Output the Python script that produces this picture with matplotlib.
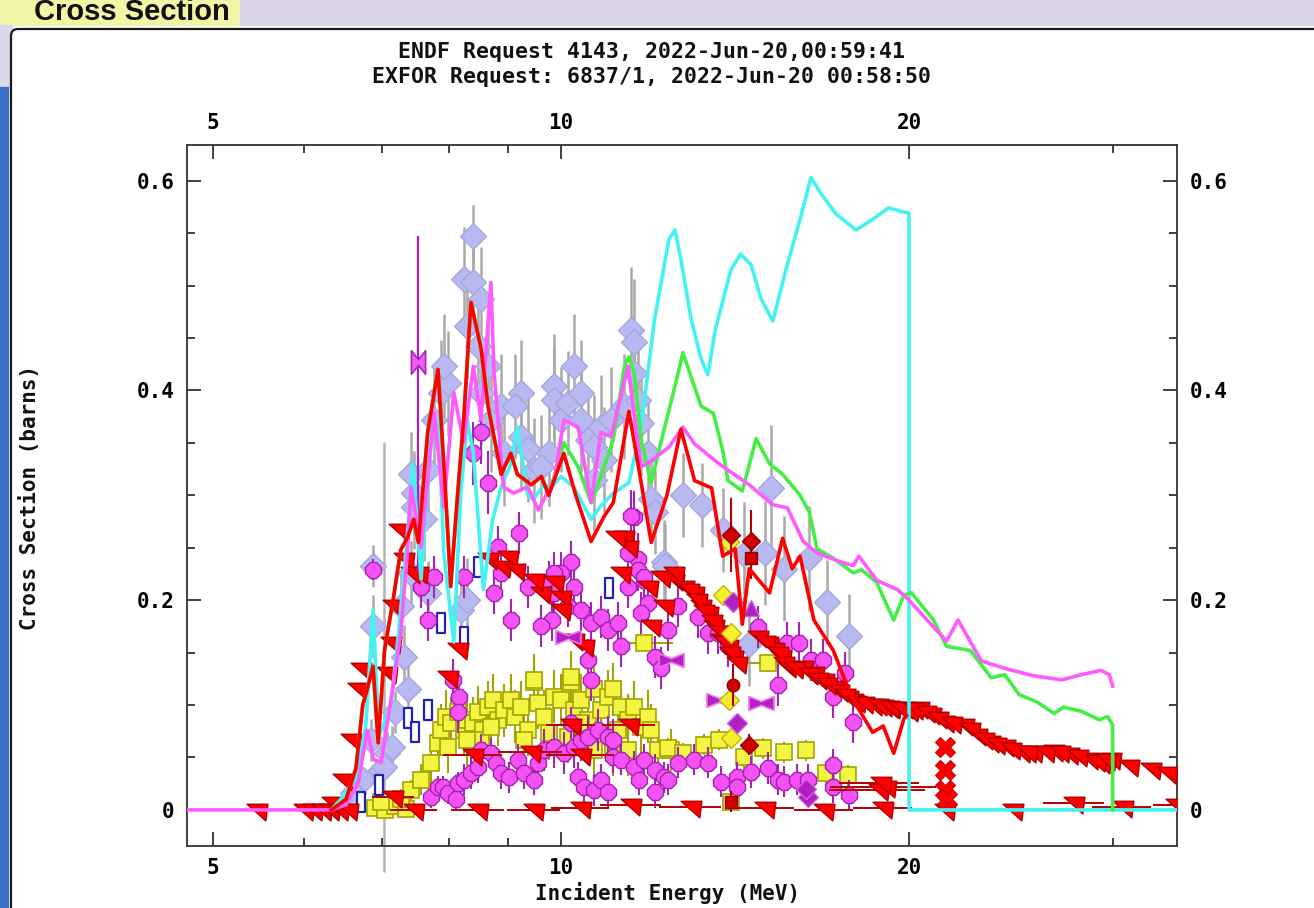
import matplotlib
matplotlib.use("Agg")
import matplotlib.pyplot as plt
import matplotlib.ticker as ticker
from matplotlib.path import Path
from matplotlib.patches import Rectangle, FancyBboxPatch

# ---- evaluated curves (incident energy MeV, cross section barns) ----
cyan_e = [6.33, 6.45, 6.65, 6.78, 6.88, 6.96, 7.13, 7.24, 7.35, 7.45, 7.57, 7.72, 7.84, 7.92,
          8.08, 8.19, 8.30, 8.40, 8.57, 8.73, 8.88, 9.05, 9.17, 9.36, 9.47, 9.66, 9.82, 10.0,
          10.26, 10.62, 10.83, 11.1, 11.45, 11.73, 12.05, 12.4, 12.55, 12.7, 12.96, 13.22, 13.4,
          13.6, 14.03, 14.3, 14.6, 14.9, 15.25, 15.65, 16.1, 16.45, 16.8, 17.3, 18.0, 18.6, 19.2,
          19.8, 20.0, 20.0, 35.0]
cyan_xs = [0.0, 0.01, 0.03, 0.08, 0.19, 0.07, 0.10, 0.17, 0.25, 0.33, 0.22, 0.36, 0.37, 0.245,
           0.16, 0.30, 0.372, 0.34, 0.21, 0.277, 0.308, 0.33, 0.365, 0.30, 0.296, 0.31, 0.308, 0.318,
           0.308, 0.277, 0.29, 0.302, 0.312, 0.365, 0.468, 0.544, 0.553, 0.525, 0.468, 0.43, 0.415,
           0.458, 0.515, 0.53, 0.52, 0.487, 0.466, 0.515, 0.563, 0.603, 0.587, 0.568, 0.553, 0.563, 0.574,
           0.57, 0.569, 0.0, 0.0]

red_e = [6.33, 6.52, 6.65, 6.74, 6.80, 6.88, 6.95, 7.04, 7.16, 7.27, 7.37, 7.46, 7.53, 7.67, 7.83,
         7.95, 8.03, 8.14, 8.24, 8.36, 8.53, 8.65, 8.88, 9.05, 9.17, 9.43, 9.62, 9.76, 10.06, 10.3,
         10.62, 10.9, 11.1, 11.45, 11.7, 11.97, 12.35, 12.7, 13.05, 13.5, 13.8, 14.15, 14.35, 14.55,
         15.15, 15.55, 15.85, 16.1, 16.55, 17.2, 17.85, 18.6, 19.0, 19.4, 19.8, 19.9]
red_xs = [0.0, 0.01, 0.04, 0.10, 0.115, 0.137, 0.064, 0.153, 0.20, 0.248, 0.26, 0.277, 0.255, 0.36, 0.42,
          0.30, 0.213, 0.30, 0.372, 0.484, 0.44, 0.385, 0.32, 0.34, 0.32, 0.31, 0.318, 0.30, 0.34, 0.30,
          0.256, 0.28, 0.293, 0.38, 0.32, 0.255, 0.30, 0.363, 0.314, 0.307, 0.242, 0.249, 0.177, 0.23,
          0.207, 0.259, 0.23, 0.242, 0.181, 0.152, 0.107, 0.074, 0.08, 0.054, 0.087, 0.09]

# below 10 MeV the green evaluation lies under the red one
green_hi_e = [10.06, 10.35, 10.62, 10.83, 11.1, 11.35, 11.45, 11.57, 11.73, 11.97, 12.2, 12.55, 12.75,
              12.96, 13.22, 13.55, 13.8, 13.95, 14.35, 14.75, 15.15, 15.55, 16.1, 16.4, 16.65, 17.2,
              17.9, 18.2, 18.75, 19.4, 19.8, 20.1, 21.0, 21.55, 22.6, 23.55, 24.2, 24.9, 25.8, 26.7,
              27.2, 28.2, 29.2, 29.7, 30.0, 30.0]
green_hi_xs = [0.35, 0.327, 0.293, 0.318, 0.353, 0.423, 0.432, 0.417, 0.353, 0.312, 0.35, 0.404, 0.436,
               0.413, 0.385, 0.378, 0.343, 0.314, 0.304, 0.354, 0.33, 0.32, 0.30, 0.284, 0.249, 0.24,
               0.226, 0.229, 0.217, 0.181, 0.205, 0.207, 0.181, 0.156, 0.152, 0.126, 0.129, 0.110, 0.103,
               0.092, 0.098, 0.094, 0.086, 0.089, 0.081, 0.0]
green_e = red_e[:28] + green_hi_e
green_xs = red_xs[:28] + green_hi_xs

mag_e = [4.7, 6.33, 6.52, 6.68, 6.80, 6.89, 6.99, 7.13, 7.27, 7.37, 7.42, 7.57, 7.77, 7.92, 8.08,
         8.24, 8.40, 8.53, 8.70, 8.75, 8.92, 9.10, 9.36, 9.56, 9.87, 10.06, 10.35, 10.62, 10.83,
         11.05, 11.43, 11.73, 11.97, 12.4, 12.75, 13.05, 13.7, 14.55, 15.25, 15.7, 16.2, 16.65,
         17.5, 17.9, 18.1, 18.75, 19.55, 20.0, 20.5, 21.55, 22.05, 23.1, 24.2, 25.6, 27.1, 28.2,
         29.3, 29.8, 30.0]
mag_xs = [0.0, 0.0, 0.005, 0.026, 0.076, 0.048, 0.045, 0.105, 0.169, 0.248, 0.308, 0.25, 0.379, 0.289,
          0.398, 0.35, 0.423, 0.372, 0.503, 0.42, 0.308, 0.302, 0.308, 0.286, 0.315, 0.372, 0.365,
          0.293, 0.36, 0.356, 0.423, 0.327, 0.333, 0.346, 0.365, 0.349, 0.33, 0.31, 0.291, 0.288,
          0.256, 0.245, 0.236, 0.233, 0.242, 0.219, 0.21, 0.20, 0.187, 0.161, 0.181, 0.142, 0.135,
          0.128, 0.124, 0.129, 0.133, 0.129, 0.118]

# ---- measured data (EXFOR) ----
dia_e = [6.88, 6.88, 7.19, 7.08, 6.99, 7.15, 6.75, 6.61, 6.85, 7.27, 7.42, 7.67, 7.32, 7.37, 8.19,
         8.30, 7.46, 7.46, 7.42, 7.62, 7.67, 7.77, 7.88, 7.99, 7.92, 8.40, 8.24, 8.40, 8.53, 8.30,
         8.48, 8.65, 8.53, 8.70, 8.88, 8.93, 9.24, 9.12, 9.24, 9.36, 9.48, 9.87, 9.87, 10.0, 10.14,
         10.26, 10.41, 10.41, 10.55, 10.68, 10.83, 11.05, 11.34, 11.50, 11.56, 11.56, 11.66, 11.73,
         11.89, 11.97, 9.76, 9.62, 10.68, 10.90, 12.28, 12.75, 13.25, 13.80, 12.30, 12.05, 15.0,
         15.6, 16.4, 17.0, 17.75, 14.4, 14.55, 15.2]
dia_xs = [0.233, 0.175, 0.093, 0.054, 0.038, 0.060, 0.029, 0.016, 0.067, 0.194, 0.226, 0.207, 0.146,
          0.115, 0.191, 0.200, 0.302, 0.289, 0.320, 0.277, 0.324, 0.372, 0.398, 0.407, 0.423, 0.547,
          0.506, 0.503, 0.487, 0.461, 0.442, 0.423, 0.398, 0.372, 0.385, 0.340, 0.398, 0.385, 0.356,
          0.344, 0.324, 0.404, 0.391, 0.372, 0.388, 0.423, 0.398, 0.372, 0.353, 0.346, 0.365, 0.372,
          0.385, 0.458, 0.446, 0.417, 0.391, 0.369, 0.340, 0.296, 0.340, 0.327, 0.315, 0.334, 0.236,
          0.300, 0.291, 0.267, 0.233, 0.284, 0.245, 0.230, 0.240, 0.198, 0.166, 0.244, 0.158, 0.307]
dia_err = [0.02, 0.03, 0.02, 0.02, 0.02, 0.02, 0.01, 0.01, 0.02, 0.03, 0.03, 0.03, 0.03, 0.03, 0.04,
           0.04, 0.04, 0.04, 0.04, 0.04, 0.04, 0.05, 0.05, 0.05, 0.05, 0.03, 0.05, 0.05, 0.05, 0.05,
           0.05, 0.05, 0.05, 0.05, 0.05, 0.05, 0.05, 0.05, 0.05, 0.05, 0.05, 0.05, 0.05, 0.05, 0.05,
           0.05, 0.05, 0.05, 0.05, 0.05, 0.05, 0.05, 0.05, 0.06, 0.06, 0.05, 0.05, 0.05, 0.05, 0.04,
           0.05, 0.05, 0.05, 0.05, 0.04, 0.04, 0.04, 0.04, 0.04, 0.04, 0.05, 0.05, 0.05, 0.04, 0.04,
           0.05, 0.04, 0.06]
long_e = [7.03]
long_xs = [0.041]
long_lo = [0.10]
long_hi = [0.31]

circ_e = [11.56, 10.2, 10.0, 9.76, 9.87, 10.26, 10.14, 10.41, 10.62, 10.83, 10.98, 11.2, 11.27,
          10.55, 10.62, 9.82, 9.62, 11.43, 11.66, 11.66, 11.8, 11.89, 11.73, 12.38, 12.62, 12.05,
          12.2, 13.14, 13.4, 13.67, 13.95, 14.8, 15.7, 16.05, 16.45, 16.85, 15.4, 17.6, 17.2, 17.9,
          8.53, 8.65, 8.40, 9.2, 8.83, 7.77, 8.24, 11.5, 8.88, 9.36, 9.87, 11.43, 11.8, 8.75, 9.05,
          7.67, 8.06, 8.16, 8.14, 7.57, 6.88,
          7.72, 7.83, 7.91, 7.99, 8.11, 8.14, 8.24, 8.36, 8.48, 8.53, 8.70, 8.78, 8.88, 9.02, 9.18,
          9.29, 9.48, 9.55, 9.67, 9.87, 10.06, 10.26, 10.41, 10.55, 10.35, 10.47, 10.68, 10.83,
          10.98, 10.77, 10.98, 11.1, 11.1, 11.27, 11.56, 11.8, 12.05, 12.28, 12.05, 11.68, 10.2,
          12.38, 13.04, 13.4, 13.76, 14.2, 14.6, 15.1, 15.4, 15.6, 16.0, 16.35, 17.2, 17.2, 17.75,
          12.62, 14.2]
circ_xs = [0.279, 0.236, 0.226, 0.217, 0.207, 0.213, 0.194, 0.191, 0.178, 0.184, 0.172, 0.178, 0.156,
           0.143, 0.124, 0.181, 0.175, 0.213, 0.239, 0.229, 0.219, 0.197, 0.188, 0.172, 0.194, 0.146,
           0.135, 0.184, 0.169, 0.169, 0.156, 0.174, 0.159, 0.159, 0.143, 0.143, 0.119, 0.131, 0.108,
           0.084, 0.360, 0.312, 0.340, 0.264, 0.251, 0.222, 0.222, 0.280, 0.226, 0.213, 0.226, 0.245,
           0.222, 0.207, 0.181, 0.181, 0.124, 0.108, 0.093, 0.213, 0.229,
           0.012, 0.022, 0.022, 0.016, 0.010, 0.026, 0.029, 0.035, 0.041, 0.057, 0.054, 0.045, 0.035,
           0.031, 0.048, 0.035, 0.029, 0.045, 0.057, 0.060, 0.054, 0.060, 0.067, 0.070, 0.031, 0.022,
           0.019, 0.029, 0.017, 0.076, 0.070, 0.067, 0.050, 0.048, 0.041, 0.048, 0.038, 0.031, 0.017,
           0.029, 0.083, 0.029, 0.048, 0.045, 0.027, 0.031, 0.036, 0.040, 0.029, 0.027, 0.029, 0.029,
           0.022, 0.043, 0.014, 0.045, 0.022]
circ_err = [0.025, 0.02, 0.02, 0.02, 0.02, 0.02, 0.02, 0.02, 0.02, 0.02, 0.02, 0.02, 0.02,
            0.02, 0.02, 0.02, 0.02, 0.02, 0.025, 0.02, 0.02, 0.02, 0.02, 0.02, 0.02, 0.02,
            0.02, 0.02, 0.02, 0.02, 0.02, 0.02, 0.02, 0.02, 0.02, 0.02, 0.02, 0.02, 0.02, 0.02,
            0.03, 0.03, 0.03, 0.02, 0.02, 0.02, 0.02, 0.025, 0.02, 0.02, 0.02, 0.02, 0.02, 0.02, 0.02,
            0.02, 0.02, 0.02, 0.02, 0.02, 0.01,
            0.01, 0.01, 0.01, 0.01, 0.01, 0.01, 0.015, 0.015, 0.015, 0.015, 0.015, 0.015, 0.015,
            0.015, 0.015, 0.015, 0.015, 0.015, 0.02, 0.02, 0.02, 0.02, 0.02, 0.02, 0.015, 0.015,
            0.015, 0.015, 0.015, 0.02, 0.02, 0.02, 0.015, 0.015, 0.015, 0.015, 0.015, 0.015, 0.015,
            0.015, 0.015, 0.015, 0.015, 0.015, 0.015, 0.015, 0.015, 0.015, 0.015, 0.015, 0.015, 0.015,
            0.015, 0.015, 0.015, 0.015, 0.015]

sq_e = [6.9, 7.04, 7.19, 7.34, 6.99, 7.27, 7.42, 7.57, 7.72, 7.83, 7.88, 7.96, 8.03, 8.14, 8.24,
        8.30, 8.40, 8.48, 8.57, 8.65, 8.73, 8.83, 8.93, 9.05, 9.12, 9.24, 9.36, 9.48, 9.55, 9.67,
        9.76, 9.87, 10.0, 10.2, 10.26, 10.41, 10.55, 10.68, 10.83, 10.98, 11.1, 11.27, 11.43, 11.56,
        11.73, 11.89, 11.97, 12.13, 12.45, 8.53, 8.70, 7.99, 8.30, 10.68, 11.1, 10.14, 9.29, 11.2,
        11.43, 10.41, 9.48, 10.2, 13.3, 14.95, 15.6, 16.3, 16.95, 17.7, 14.4, 13.7, 12.38, 12.75,
        14.03]
sq_xs = [0.002, 0.0, 0.004, 0.001, 0.008, 0.010, 0.019, 0.029, 0.045, 0.064, 0.076, 0.089, 0.083,
         0.093, 0.076, 0.086, 0.083, 0.093, 0.076, 0.098, 0.105, 0.086, 0.095, 0.105, 0.089, 0.098,
         0.076, 0.122, 0.102, 0.089, 0.073, 0.108, 0.105, 0.122, 0.095, 0.105, 0.086, 0.115, 0.095,
         0.108, 0.115, 0.098, 0.086, 0.098, 0.079, 0.089, 0.076, 0.057, 0.057, 0.067, 0.079, 0.060,
         0.067, 0.057, 0.057, 0.070, 0.067, 0.076, 0.057, 0.083, 0.124, 0.127, 0.062, 0.059, 0.055,
         0.057, 0.035, 0.033, 0.050, 0.067, 0.059, 0.054, 0.008]
sq_err = [0.006, 0.006, 0.006, 0.006, 0.006, 0.01, 0.01, 0.015, 0.02, 0.02, 0.025, 0.025, 0.025,
          0.025, 0.025, 0.025, 0.025, 0.025, 0.025, 0.025, 0.025, 0.025, 0.025, 0.025, 0.025, 0.025,
          0.025, 0.025, 0.025, 0.025, 0.025, 0.025, 0.025, 0.025, 0.025, 0.025, 0.025, 0.025, 0.025,
          0.025, 0.025, 0.025, 0.025, 0.025, 0.025, 0.025, 0.025, 0.02, 0.02, 0.025, 0.025, 0.025,
          0.025, 0.025, 0.025, 0.025, 0.025, 0.025, 0.025, 0.025, 0.025, 0.025, 0.01, 0.01, 0.01,
          0.01, 0.01, 0.01, 0.01, 0.01, 0.01, 0.01, 0.01]
sqh_e = [11.8, 15.1]
sqh_xs = [0.159, 0.140]
sqh_xerr = [0.7, 0.9]

tri_e = [11.34, 11.43, 11.27, 11.89, 12.28, 11.97, 12.53, 12.77, 13.04, 13.22, 13.4, 13.56, 13.76,
         13.95, 14.1, 15.1, 15.3, 15.5, 15.7, 16.2, 16.55, 16.9, 17.2, 17.7, 17.9, 18.6, 19.0, 19.3,
         19.8, 20.0, 20.4, 20.9, 21.5, 22.3, 22.9, 23.5, 24.2, 25.0, 25.6, 26.7, 27.5, 28.6, 29.3,
         29.9, 31.0, 32.4, 33.4,
         12.9, 13.1, 13.3, 13.5, 13.7, 13.85, 14.0, 14.2, 14.8, 15.0, 15.4, 15.6, 15.9, 16.4, 16.7,
         17.0, 17.4, 17.6, 18.0, 18.3, 18.8, 19.2, 19.6, 20.2, 20.7, 21.2, 21.8, 22.6, 23.2, 23.8,
         24.5, 25.3, 26.2, 27.0, 28.0, 29.0, 29.6,
         9.62, 10.0, 10.26, 10.47, 7.24, 7.32, 7.53, 8.65, 9.0, 8.88, 9.12, 9.48, 9.87, 11.15, 12.2,
         12.53, 6.72, 6.68, 6.58, 6.48, 6.34, 7.16, 7.13, 7.08, 7.42, 8.14, 7.99, 10.0,
         5.46, 6.0, 6.11, 6.22, 6.32, 6.43, 6.54]
tri_xs = [0.260, 0.251, 0.226, 0.213, 0.194, 0.175, 0.219, 0.213, 0.207, 0.194, 0.188, 0.175, 0.162,
          0.156, 0.146, 0.159, 0.153, 0.146, 0.136, 0.136, 0.131, 0.124, 0.117, 0.108, 0.105, 0.100,
          0.099, 0.097, 0.097, 0.094, 0.097, 0.091, 0.084, 0.081, 0.071, 0.065, 0.061, 0.055, 0.055,
          0.056, 0.053, 0.049, 0.045, 0.049, 0.042, 0.039, 0.035,
          0.21, 0.20, 0.19, 0.18, 0.17, 0.16, 0.15, 0.14, 0.165, 0.16, 0.15, 0.14, 0.135, 0.13, 0.125,
          0.12, 0.113, 0.11, 0.103, 0.102, 0.10, 0.098, 0.097, 0.096, 0.093, 0.088, 0.083, 0.077,
          0.068, 0.063, 0.058, 0.055, 0.055, 0.055, 0.051, 0.047, 0.048,
          0.207, 0.203, 0.162, 0.156, 0.267, 0.239, 0.226, 0.239, 0.241, 0.232, 0.229, 0.219, 0.217,
          0.260, 0.222, 0.226, 0.134, 0.115, 0.067, 0.029, 0.007, 0.194, 0.159, 0.131, 0.226, 0.153,
          0.127, 0.191,
          0.0, 0.0, 0.0, 0.0, 0.0, 0.0, 0.0]

trl_e = [7.46, 8.48, 9.48, 10.41, 11.5, 12.96, 15.0, 16.9, 19.0, 21.5, 24.6, 27.8, 30.6, 34.0,
         7.16, 8.40, 9.43, 10.2, 10.41, 11.45, 19.1, 18.85, 18.9]
trl_xs = [0.0, 0.0, 0.0, 0.002, 0.005, 0.003, 0.002, 0.0, 0.002, 0.0, 0.0, 0.007, 0.003, 0.005,
          0.012, 0.052, 0.055, 0.081, 0.052, 0.081, 0.022, 0.019, 0.026]
trl_xerr = [0.35, 0.45, 0.5, 0.6, 0.7, 0.8, 0.9, 1.0, 1.1, 1.2, 1.5, 1.7, 1.8, 1.5,
            0.3, 0.5, 0.6, 0.5, 0.7, 0.6, 2.0, 1.8, 1.5]

rect_e = [8.48, 7.88, 8.24, 7.67, 7.37, 7.48, 6.96, 6.72, 11.0]
rect_xs = [0.232, 0.178, 0.165, 0.095, 0.088, 0.074, 0.024, 0.008, 0.212]

bow_e = [10.14, 12.45, 13.7, 14.9]
bow_xs = [0.165, 0.143, 0.105, 0.102]
hour_e = [7.52]
hour_xs = [0.427]
hour_lo = [0.20]
hour_hi = [0.12]

ydia_e = [13.97, 13.8, 14.03, 13.97, 14.03]
ydia_xs = [0.255, 0.205, 0.169, 0.105, 0.069]
pdia_e = [14.1, 14.2, 16.35, 16.3]
pdia_xs = [0.198, 0.083, 0.012, 0.020]
ptri_e = [14.6]
ptri_xs = [0.193]
dred_e = [14.03, 14.6, 14.6, 14.08, 14.55, 14.03]
dred_xs = [0.262, 0.256, 0.240, 0.119, 0.062, 0.008]
dred_err = [0.035, 0.03, 0.02, 0.02, 0.01, 0.01]
dred_mk = ['D', 'D', 's', 'o', 'D', 's']
xmark_e = [21.5, 21.5, 21.5, 21.55]
xmark_xs = [0.060, 0.038, 0.019, 0.010]

x_major = [5, 10, 20]
x_minor = [6, 7, 8, 9, 30]
title_lines = ["ENDF Request 4143, 2022-Jun-20,00:59:41",
               "EXFOR Request: 6837/1, 2022-Jun-20 00:58:50"]

mono = "DejaVu Sans Mono"
W, H = 1314, 908

tri_marker = Path([(-1, 0.6), (1, 0.6), (0.8, -1), (-1, 0.6)],
                  [Path.MOVETO, Path.LINETO, Path.LINETO, Path.CLOSEPOLY])
rect_marker = Path([(-0.4, -1), (0.4, -1), (0.4, 1), (-0.4, 1), (-0.4, -1)],
                   [Path.MOVETO, Path.LINETO, Path.LINETO, Path.LINETO, Path.CLOSEPOLY])
bow_marker = Path([(-1, 0.55), (0, 0.15), (1, 0.55), (1, -0.55), (0, -0.15), (-1, -0.55), (-1, 0.55)],
                  [Path.MOVETO] + [Path.LINETO] * 5 + [Path.CLOSEPOLY])
hour_marker = Path([(-0.6, 1), (0, 0.25), (0.6, 1), (0.6, -1), (0, -0.25), (-0.6, -1), (-0.6, 1)],
                   [Path.MOVETO] + [Path.LINETO] * 5 + [Path.CLOSEPOLY])

fig = plt.figure(figsize=(W / 100, H / 100), dpi=100)

# page chrome around the plot
bg = fig.add_axes([0, 0, 1, 1], zorder=0)
bg.set_xlim(0, W)
bg.set_ylim(H, 0)
bg.axis("off")
bg.add_patch(Rectangle((0, 0), 240, 25, color="#f4f4a6"))
bg.add_patch(Rectangle((240, 0), W - 240, 25, color="#d9d3e5"))
bg.add_patch(Rectangle((0, 25), 12, 62, color="#dcd8e8"))
bg.add_patch(Rectangle((0, 87), 8, H - 87, color="#3b6fc4"))
bg.add_patch(FancyBboxPatch((11, 29), W + 20, H + 20,
                            boxstyle="round,pad=0,rounding_size=7",
                            fc="white", ec="#1a1a1a", lw=1.6))
bg.text(34, 20, "Cross Section", fontsize=21, fontweight="bold",
        family="Liberation Sans", color="#111111", va="baseline", clip_on=True)

ax = fig.add_axes([187 / W, 1 - 846 / H, 990 / W, 701 / H], zorder=1)
ax.set_xscale("log")
ax.set_xlim(4.75, 34.1)
ax.set_ylim(-0.0344, 0.634)

# data points
ax.errorbar(dia_e, dia_xs, yerr=dia_err, fmt="none", ecolor="#a9a9a9", elinewidth=1.8, zorder=2)
eb = ax.errorbar(long_e, long_xs, yerr=[long_lo, long_hi], fmt="none", ecolor="#b4b4b4",
                 elinewidth=1.8, zorder=2)
for c in eb.lines[2]:
    c.set_clip_on(False)
ax.plot(dia_e + long_e, dia_xs + long_xs, ls="none", marker="D", ms=13,
        mfc="#b9b9f2", mec="#a6a6dc", mew=1, zorder=2.1)

ax.errorbar(sq_e, sq_xs, yerr=sq_err, fmt="none", ecolor="#a4a400", elinewidth=1.5, zorder=2.4)
ax.errorbar(sqh_e, sqh_xs, xerr=sqh_xerr, fmt="none", ecolor="#a4a400", elinewidth=1.5, zorder=2.4)
ax.plot(sq_e + sqh_e, sq_xs + sqh_xs, ls="none", marker="s", ms=11,
        mfc="#f4f442", mec="#a4a400", mew=1.2, zorder=2.5)

ax.plot(rect_e, rect_xs, ls="none", marker=rect_marker, ms=15,
        mfc="white", mec="#2222b4", mew=1.6, zorder=2.6)

ax.errorbar(circ_e, circ_xs, yerr=circ_err, fmt="none", ecolor="#a424b4", elinewidth=1.5, zorder=2.9)
ax.plot(circ_e, circ_xs, ls="none", marker="8", ms=12,
        mfc="#f452f4", mec="#a420b0", mew=1, zorder=3)

ax.errorbar(trl_e, trl_xs, xerr=trl_xerr, fmt="none", ecolor="#b40000", elinewidth=1.4, zorder=3.3)
ax.plot(tri_e + trl_e, tri_xs + trl_xs, ls="none", marker=tri_marker, ms=15,
        mfc="#ff0000", mec="#b00000", mew=1, zorder=3.5)

ax.errorbar(hour_e, hour_xs, yerr=[hour_lo, hour_hi], fmt="none", ecolor="#b020c0",
            elinewidth=1.6, zorder=3.6)
ax.plot(hour_e, hour_xs, ls="none", marker=hour_marker, ms=17,
        mfc="#f060f0", mec="#b020c0", mew=1.2, zorder=3.7)
ax.plot(bow_e, bow_xs, ls="none", marker=bow_marker, ms=18,
        mfc="#b422c4", mec="#f070f0", mew=1.2, zorder=3.7)
ax.plot(ydia_e, ydia_xs, ls="none", marker="D", ms=10,
        mfc="#f4f030", mec="#c8b400", mew=1, zorder=3.7)
ax.plot(pdia_e, pdia_xs, ls="none", marker="D", ms=10,
        mfc="#b020c0", mec="#d060e0", mew=1, zorder=3.7)
ax.plot(ptri_e, ptri_xs, ls="none", marker="^", ms=12,
        mfc="#b020c0", mec="#d060e0", mew=1, zorder=3.7)
ax.errorbar(dred_e, dred_xs, yerr=dred_err, fmt="none", ecolor="#b00000", elinewidth=1.5, zorder=3.7)
for e, s, m in zip(dred_e, dred_xs, dred_mk):
    ax.plot([e], [s], ls="none", marker=m, ms=9, mfc="#d00000", mec="#900000", zorder=3.8)
ax.plot(xmark_e, xmark_xs, ls="none", marker="X", ms=15,
        mfc="#ff0000", mec="#d00000", mew=0.8, zorder=3.8)

# evaluations on top
ax.plot(cyan_e, cyan_xs, color="#44f2f2", lw=2.6, zorder=4)
ax.plot(green_e, green_xs, color="#44ee44", lw=2.6, zorder=4.1)
ax.plot(mag_e, mag_xs, color="#ff5aff", lw=2.6, zorder=4.2)
ax.plot(red_e, red_xs, color="#ff0000", lw=2.6, zorder=4.3)

# axes styling
ax.xaxis.set_major_locator(ticker.FixedLocator(x_major))
ax.xaxis.set_minor_locator(ticker.FixedLocator(x_minor))
ax.xaxis.set_major_formatter(ticker.FuncFormatter(lambda v, p: f"{v:.0f}"))
ax.xaxis.set_minor_formatter(ticker.NullFormatter())
ax.yaxis.set_major_locator(ticker.MultipleLocator(0.2))
ax.yaxis.set_minor_locator(ticker.MultipleLocator(0.05))
ax.yaxis.set_major_formatter(ticker.FuncFormatter(
    lambda v, p: "0" if abs(v) < 1e-9 else f"{v:.1f}"))

for sp in ax.spines.values():
    sp.set_color("#333333")
    sp.set_linewidth(1.3)
ax.tick_params(which="both", direction="in", top=True, right=True,
               labeltop=True, labelright=True, color="#333333", width=1.3)
ax.tick_params(which="major", length=10)
ax.tick_params(which="minor", length=5.5)
ax.tick_params(axis="y", which="major", pad=9)
ax.tick_params(axis="x", which="major", pad=9)
for t in ax.xaxis.get_major_ticks() + ax.yaxis.get_major_ticks():
    for lab in (t.label1, t.label2):
        lab.set_fontfamily(mono)
        lab.set_fontweight("bold")
        lab.set_fontsize(15)

fig.text(652 / W, 1 - 52 / H, title_lines[0], ha="center", va="center",
         family=mono, fontweight="bold", fontsize=15.5, color="#111111")
fig.text(652 / W, 1 - 77 / H, title_lines[1], ha="center", va="center",
         family=mono, fontweight="bold", fontsize=15.5, color="#111111")
fig.text(668 / W, 1 - 893 / H, "Incident Energy (MeV)", ha="center", va="center",
         family=mono, fontweight="bold", fontsize=15, color="#111111")
fig.text(30 / W, 1 - 497 / H, "Cross Section (barns)", ha="center", va="center",
         rotation=90, family=mono, fontweight="bold", fontsize=15, color="#111111")

fig.savefig("out.png", dpi=100)
